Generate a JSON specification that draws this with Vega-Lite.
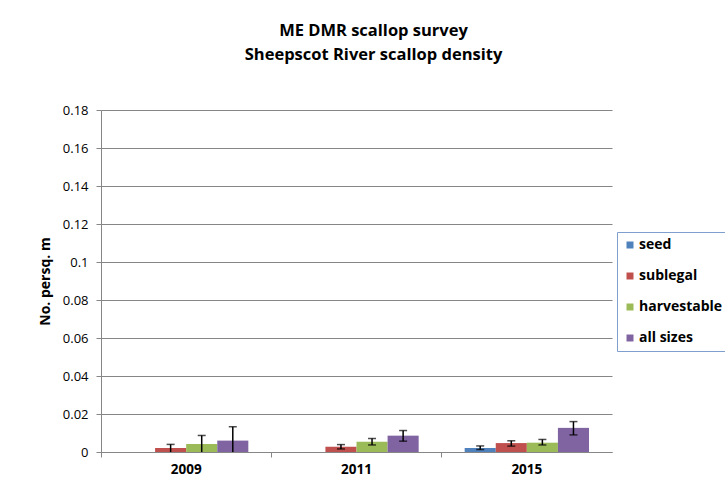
{
  "$schema": "https://vega.github.io/schema/vega-lite/v6.json",
  "width": 511,
  "height": 342,
  "autosize": "none",
  "padding": {"left": 101, "top": 110, "right": 113, "bottom": 37},
  "background": "white",
  "config": {
    "font": "Open Sans",
    "view": {"stroke": null},
    "axis": {"labelFont": "Open Sans", "titleFont": "Open Sans", "labelColor": "#000000", "titleColor": "#000000"},
    "axisY": {"tickCount": 10, "labelOverlap": false, "format": "~g"},
    "legend": {"labelFont": "Open Sans"}
  },
  "title": {
    "text": ["ME DMR scallop survey", "Sheepscot River scallop density"],
    "fontSize": 16.5,
    "fontWeight": "bold",
    "color": "#000000",
    "lineHeight": 24,
    "anchor": "middle",
    "dx": 17,
    "offset": 41
  },
  "data": {
    "values": [
      {"year": "2009", "size": "seed", "value": 0, "lo": null, "hi": null},
      {"year": "2009", "size": "sublegal", "value": 0.0021, "lo": 0, "hi": 0.0040},
      {"year": "2009", "size": "harvestable", "value": 0.0042, "lo": 0, "hi": 0.0087},
      {"year": "2009", "size": "all sizes", "value": 0.0060, "lo": 0, "hi": 0.0133},
      {"year": "2011", "size": "seed", "value": 0, "lo": null, "hi": null},
      {"year": "2011", "size": "sublegal", "value": 0.0027, "lo": 0.0016, "hi": 0.0039},
      {"year": "2011", "size": "harvestable", "value": 0.0054, "lo": 0.0037, "hi": 0.0071},
      {"year": "2011", "size": "all sizes", "value": 0.0086, "lo": 0.0057, "hi": 0.0113},
      {"year": "2015", "size": "seed", "value": 0.0021, "lo": 0.0013, "hi": 0.0032},
      {"year": "2015", "size": "sublegal", "value": 0.0047, "lo": 0.0031, "hi": 0.0059},
      {"year": "2015", "size": "harvestable", "value": 0.0049, "lo": 0.0037, "hi": 0.0066},
      {"year": "2015", "size": "all sizes", "value": 0.0127, "lo": 0.0090, "hi": 0.0160}
    ]
  },
  "encoding": {
    "x": {
      "field": "year",
      "type": "nominal",
      "title": null,
      "scale": {"paddingInner": 0, "paddingOuter": 0},
      "axis": {
        "labelAngle": 0,
        "labelFontSize": 13.5,
        "labelFontWeight": "bold",
        "labelPadding": 5,
        "tickSize": 5,
        "tickColor": "#868686",
        "domainColor": "#868686",
        "bandPosition": 0,
        "grid": false
      }
    },
    "xOffset": {
      "field": "size",
      "type": "nominal",
      "sort": ["seed", "sublegal", "harvestable", "all sizes"],
      "scale": {"domain": ["seed", "sublegal", "harvestable", "all sizes"], "paddingInner": 0, "paddingOuter": 0.74}
    }
  },
  "layer": [
    {
      "mark": {"type": "bar"},
      "encoding": {
        "y": {
          "field": "value",
          "type": "quantitative",
          "title": "No. persq. m",
          "scale": {"domain": [0, 0.18], "nice": false},
          "axis": {
            "labelFontSize": 13,
            "labelPadding": 8,
            "tickSize": 5,
            "tickColor": "#868686",
            "domainColor": "#868686",
            "gridColor": "#868686",
            "titleFontSize": 14,
            "titleFontWeight": "bold",
            "titlePadding": 10
          }
        },
        "color": {
          "field": "size",
          "type": "nominal",
          "sort": ["seed", "sublegal", "harvestable", "all sizes"],
          "scale": {
            "domain": ["seed", "sublegal", "harvestable", "all sizes"],
            "range": ["#4f81bd", "#c0504d", "#9bbb59", "#8064a2"]
          },
          "legend": {
            "title": null,
            "orient": "none",
            "legendX": 516,
            "legendY": 122,
            "symbolType": "square",
            "symbolSize": 49,
            "symbolStrokeWidth": 0,
            "labelFontSize": 14,
            "labelFontWeight": "bold",
            "labelColor": "#000000",
            "labelOffset": 2,
            "rowPadding": 17,
            "padding": 6,
            "strokeColor": "#7f9fcf",
            "fillColor": "white"
          }
        }
      }
    },
    {
      "transform": [{"filter": "datum.hi != null"}],
      "mark": {"type": "rule", "color": "black", "strokeWidth": 1.5},
      "encoding": {
        "y": {"field": "lo", "type": "quantitative"},
        "y2": {"field": "hi"}
      }
    },
    {
      "transform": [{"filter": "datum.hi != null"}],
      "mark": {"type": "tick", "color": "black", "size": 8, "thickness": 1.5},
      "encoding": {
        "y": {"field": "hi", "type": "quantitative"}
      }
    },
    {
      "transform": [{"filter": "datum.hi != null && datum.lo > 0"}],
      "mark": {"type": "tick", "color": "black", "size": 8, "thickness": 1.5},
      "encoding": {
        "y": {"field": "lo", "type": "quantitative"}
      }
    }
  ]
}
